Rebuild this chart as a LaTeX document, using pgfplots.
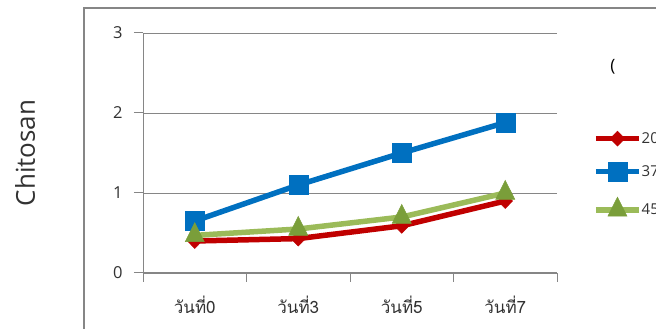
\documentclass[border=0pt]{standalone}
\usepackage{fontspec}
\usepackage{pgfplots}
\pgfplotsset{compat=1.18}
\setmainfont{Open Sans}
\newfontfamily\thaifont[Script=Thai]{Loma}
\definecolor{cred}{RGB}{192,0,0}
\definecolor{cblue}{RGB}{0,112,192}
\definecolor{cgreen}{RGB}{155,187,89}
\definecolor{cgreenm}{RGB}{122,158,58}
\definecolor{cgrid}{RGB}{134,134,134}
\definecolor{ctext}{RGB}{50,50,50}
\begin{document}
\begin{tikzpicture}
\useasboundingbox (0,0) rectangle (656pt,329pt);
\clip (0,0) rectangle (656pt,329pt);
\draw[cgrid, line width=1.5pt] (84pt,-10pt) rectangle (720pt,321pt);
\node[font=\fontsize{17}{20}\selectfont, text=black] at (613pt,262pt) {(};
\node[rotate=90, font=\fontsize{26}{30}\selectfont, text=ctext] at (25pt,176pt) {Chitosan};
\begin{axis}[
  at={(143pt,56pt)}, anchor=south west,
  scale only axis, width=414pt, height=240pt,
  xmin=0, xmax=4, ymin=0, ymax=3,
  xtick={0,1,2,3,4},
  x tick label as interval,
  xticklabels={{\thaifont วันที่0},{\thaifont วันที่3},{\thaifont วันที่5},{\thaifont วันที่7}},
  ytick={0,1,2,3},
  axis x line=bottom, axis y line=left,
  axis line style={-, draw=cgrid, line width=1pt},
  tick align=outside, major tick length=9pt,
  tick style={draw=cgrid, line width=1pt},
  ymajorgrids, grid style={draw=cgrid, line width=0.8pt},
  ticklabel style={font=\fontsize{16.5}{19}\selectfont, text=ctext},
  /pgf/number format/assume math mode=true,
  yticklabel style={xshift=-8pt},
  xticklabel style={font=\thaifont\fontsize{17}{20}\selectfont, yshift=-10pt},
  legend cell align=left,
  legend style={at={(1.0870,0.592)}, anchor=north west, draw=none, fill=none,
    inner xsep=0pt, inner ysep=0pt,
    nodes={inner sep=0pt, font=\fontsize{15}{18}\selectfont, text=ctext},
    row sep=16pt,
    /tikz/every even column/.append style={column sep=0pt}},
  legend image code/.code={
    \draw[#1, mark repeat=2, mark phase=2] plot coordinates {(0pt,0pt) (21.5pt,0pt) (43pt,0pt)};},
]
\addplot[cred, line width=5.5pt, mark=diamond*, mark size=7.5pt,
  mark options={fill=cred, draw=cred, line width=0.5pt, xscale=1.3}]
  coordinates {(0.5,0.40) (1.5,0.43) (2.5,0.59) (3.5,0.90)};
\addlegendentry{20}
\addplot[cblue, line width=5.5pt, mark=square*, mark size=9.5pt,
  mark options={fill=cblue, draw=cblue, line width=0.5pt}]
  coordinates {(0.5,0.65) (1.5,1.10) (2.5,1.50) (3.5,1.88)};
\addlegendentry{37}
\addplot[cgreen, line width=5.5pt, mark=triangle*, mark size=11pt,
  mark options={fill=cgreenm, draw=cgreenm, line width=0.5pt, yscale=1.15}]
  coordinates {(0.5,0.47) (1.5,0.55) (2.5,0.70) (3.5,1.00)};
\addlegendentry{45}
\end{axis}
\end{tikzpicture}
\end{document}
